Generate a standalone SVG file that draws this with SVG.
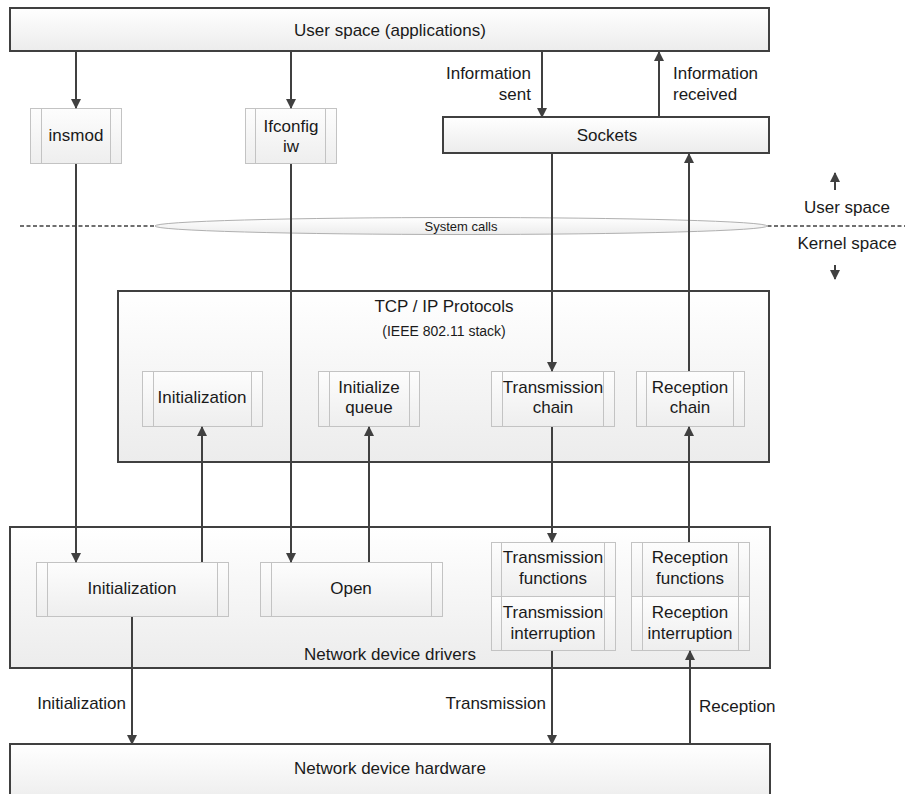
<svg xmlns="http://www.w3.org/2000/svg" width="905" height="794" viewBox="0 0 905 794">
<defs>
<linearGradient id="g" x1="0" y1="0" x2="0" y2="1"><stop offset="0" stop-color="#ffffff"/><stop offset="1" stop-color="#ececec"/></linearGradient>
<linearGradient id="gs" x1="0" y1="0" x2="0" y2="1"><stop offset="0" stop-color="#fdfdfd"/><stop offset="1" stop-color="#eeeeee"/></linearGradient>
<marker id="ah" markerUnits="userSpaceOnUse" markerWidth="10" markerHeight="11" refX="9" refY="5" orient="auto"><path d="M0,0 L10,5 L0,10 Z" fill="#404040"/></marker>
<style>
.big{fill:url(#g);stroke:#404040;stroke-width:2}
.sm{fill:url(#gs);stroke:#c3c3c3;stroke-width:1}
.in{stroke:#c3c3c3;stroke-width:1;fill:none}
.t{font-family:"Liberation Sans",Arial,sans-serif;font-size:17px;fill:#1a1a1a}
.c{text-anchor:middle}
.e{text-anchor:end}
.ln{stroke:#404040;stroke-width:2;fill:none}
.ar{stroke:#404040;stroke-width:2;fill:none;marker-end:url(#ah)}
</style>
</defs>

<g id="user-space">
<rect class="big" x="10" y="8" width="759" height="43"/>
<text class="t c" x="390" y="36">User space (applications)</text>
</g>

<g id="insmod">
<rect class="sm" x="30.5" y="108.5" width="91" height="55"/>
<path class="in" d="M41.5,108.5V163.5M110.5,108.5V163.5"/>
<text class="t c" x="76" y="141">insmod</text>
</g>

<g id="ifconfig">
<rect class="sm" x="245.5" y="108.5" width="91" height="55"/>
<path class="in" d="M255.5,108.5V163.5M325.5,108.5V163.5"/>
<text class="t c" x="291" y="132">Ifconfig</text>
<text class="t c" x="291" y="152">iw</text>
</g>

<g id="sockets">
<rect class="big" x="443" y="117" width="326" height="36"/>
<text class="t c" x="607" y="141">Sockets</text>
</g>

<g id="boundary">
<line x1="20" y1="226" x2="905" y2="226" stroke="#404040" stroke-width="1.5" stroke-dasharray="4,2.5"/>
<ellipse cx="461" cy="226" rx="306" ry="8.5" fill="url(#g)" stroke="#b0b0b0" stroke-width="1"/>
<text x="461" y="230.5" font-family="Liberation Sans, Arial, sans-serif" font-size="13" fill="#1a1a1a" text-anchor="middle">System calls</text>
<text class="t c" x="847" y="213">User space</text>
<text class="t c" x="847" y="249">Kernel space</text>
</g>

<g id="tcpip">
<rect class="big" x="118" y="291" width="651" height="171"/>
<text class="t c" x="444" y="312">TCP / IP Protocols</text>
<text class="c" x="444" y="336" font-family="Liberation Sans, Arial, sans-serif" font-size="14" fill="#1a1a1a">(IEEE 802.11 stack)</text>
</g>

<g id="tcp-init">
<rect class="sm" x="142.5" y="371.5" width="120" height="55"/>
<path class="in" d="M153.5,371.5V426.5M251.5,371.5V426.5"/>
<text class="t c" x="202" y="403">Initialization</text>
</g>

<g id="init-queue">
<rect class="sm" x="318.5" y="371.5" width="101" height="55"/>
<path class="in" d="M329.5,371.5V426.5M409.5,371.5V426.5"/>
<text class="t c" x="369" y="393">Initialize</text>
<text class="t c" x="369" y="413">queue</text>
</g>

<g id="tx-chain">
<rect class="sm" x="491.5" y="371.5" width="123" height="55"/>
<path class="in" d="M502.5,371.5V426.5M603.5,371.5V426.5"/>
<text class="t c" x="553" y="393">Transmission</text>
<text class="t c" x="553" y="413">chain</text>
</g>

<g id="rx-chain">
<rect class="sm" x="636.5" y="371.5" width="108" height="55"/>
<path class="in" d="M646.5,371.5V426.5M733.5,371.5V426.5"/>
<text class="t c" x="690" y="393">Reception</text>
<text class="t c" x="690" y="413">chain</text>
</g>

<g id="drivers">
<rect class="big" x="10" y="527" width="760" height="141"/>
<text class="t c" x="390" y="660">Network device drivers</text>
</g>

<g id="drv-init">
<rect class="sm" x="36.5" y="562.5" width="192" height="54"/>
<path class="in" d="M47.5,562.5V616.5M217.5,562.5V616.5"/>
<text class="t c" x="132" y="594">Initialization</text>
</g>

<g id="drv-open">
<rect class="sm" x="260.5" y="562.5" width="182" height="54"/>
<path class="in" d="M271.5,562.5V616.5M431.5,562.5V616.5"/>
<text class="t c" x="351" y="594">Open</text>
</g>

<g id="tx-funcs">
<rect class="sm" x="491.5" y="542.5" width="124" height="54"/>
<path class="in" d="M501.5,542.5V596.5M604.5,542.5V596.5"/>
<text class="t c" x="553" y="563">Transmission</text>
<text class="t c" x="553" y="584">functions</text>
</g>

<g id="tx-int">
<rect class="sm" x="491.5" y="596.5" width="124" height="54"/>
<path class="in" d="M501.5,596.5V650.5M604.5,596.5V650.5"/>
<text class="t c" x="553" y="618">Transmission</text>
<text class="t c" x="553" y="639">interruption</text>
</g>

<g id="rx-funcs">
<rect class="sm" x="631.5" y="542.5" width="118" height="54"/>
<path class="in" d="M642.5,542.5V596.5M738.5,542.5V596.5"/>
<text class="t c" x="690" y="563">Reception</text>
<text class="t c" x="690" y="584">functions</text>
</g>

<g id="rx-int">
<rect class="sm" x="631.5" y="596.5" width="118" height="54"/>
<path class="in" d="M642.5,596.5V650.5M738.5,596.5V650.5"/>
<text class="t c" x="690" y="618">Reception</text>
<text class="t c" x="690" y="639">interruption</text>
</g>

<g id="hardware">
<rect class="big" x="10" y="744" width="760" height="60"/>
<text class="t c" x="390" y="774">Network device hardware</text>
</g>

<g id="connectors">
<line class="ar" x1="76" y1="52" x2="76" y2="108"/>
<line class="ar" x1="291" y1="52" x2="291" y2="108"/>
<line class="ar" x1="542" y1="52" x2="542" y2="117"/>
<line class="ar" x1="659" y1="117" x2="659" y2="52"/>
<line class="ar" x1="552" y1="154" x2="552" y2="371"/>
<line class="ar" x1="689" y1="371" x2="689" y2="154"/>
<line class="ar" x1="76" y1="164" x2="76" y2="562"/>
<line class="ar" x1="291" y1="164" x2="291" y2="562"/>
<line class="ar" x1="202" y1="562" x2="202" y2="427"/>
<line class="ar" x1="369" y1="562" x2="369" y2="427"/>
<line class="ar" x1="552" y1="427" x2="552" y2="542"/>
<line class="ar" x1="689" y1="542" x2="689" y2="427"/>
<line class="ar" x1="132" y1="617" x2="132" y2="744"/>
<line class="ar" x1="552" y1="651" x2="552" y2="744"/>
<line class="ar" x1="690" y1="744" x2="690" y2="651"/>
<line class="ar" x1="835" y1="190" x2="835" y2="173"/>
<line class="ar" x1="835" y1="265" x2="835" y2="279"/>
<text class="t e" x="531" y="79">Information</text>
<text class="t e" x="531" y="100">sent</text>
<text class="t" x="673" y="79">Information</text>
<text class="t" x="673" y="100">received</text>
<text class="t e" x="126" y="709">Initialization</text>
<text class="t e" x="546" y="709">Transmission</text>
<text class="t" x="699" y="712">Reception</text>
</g>
</svg>
